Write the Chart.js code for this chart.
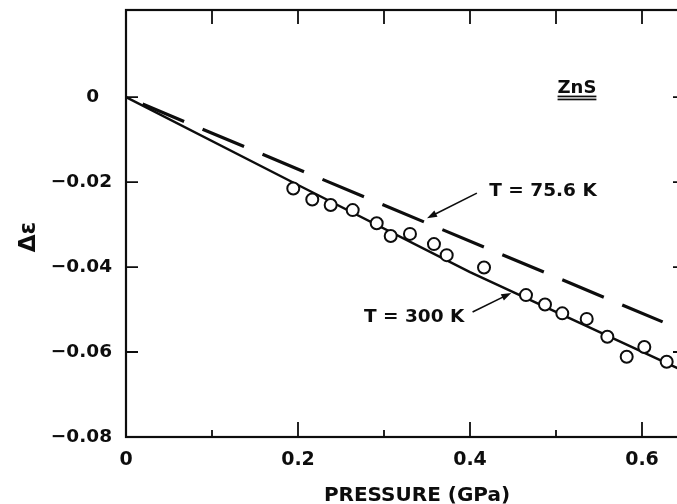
<!DOCTYPE html>
<html>
<head>
<meta charset="utf-8">
<script src="https://cdn.jsdelivr.net/npm/chart.js@4/dist/chart.umd.min.js"></script>
<style>
  html, body { margin: 0; padding: 0; background: #fff; overflow: hidden; }
  #wrap { width: 677px; height: 504px; overflow: hidden; }
</style>
</head>
<body>
<div id="wrap"><canvas id="c" width="695" height="504"></canvas></div>
<script>
// datos (ZnS, Δε vs presion)
const pressure = [0.1945, 0.2166, 0.238, 0.2636, 0.2915, 0.3078, 0.3302, 0.3581, 0.3729,
  0.4163, 0.4651, 0.4872, 0.5073, 0.5357, 0.5597, 0.5822, 0.6027, 0.6287]
const deltaEps = [-0.0215, -0.0241, -0.0254, -0.0266, -0.0297, -0.0327, -0.0322, -0.0346, -0.0372,
  -0.0401, -0.0466, -0.0488, -0.0509, -0.0522, -0.0564, -0.0611, -0.0588, -0.0623]

// ajuste T = 300 K (linea continua)
const fit300X = [0, 0.2, 0.4, 0.65]
const fit300Y = [0, -0.0207, -0.0412, -0.0646]
// T = 75.6 K (linea discontinua)
const fit756X = [0, 0.624]
const fit756Y = [0, -0.0529]

const xTicks = [0, 0.1, 0.2, 0.3, 0.4, 0.5, 0.6]
const xTickLabels = ['0', '', '0.2', '', '0.4', '', '0.6']
const yTicks = [0, -0.02, -0.04, -0.06, -0.08]
const yTickLabels = ['0  ', '\u22120.02', '\u22120.04', '\u22120.06', '\u22120.08']

const INK = '#0d0d0d'
const FONT = '"DejaVu Sans", "Liberation Sans", Arial, sans-serif'
const pts = (xs, ys) => xs.map((x, i) => ({ x, y: ys[i] }))

// marco + ticks hacia dentro + anotaciones
const framePlugin = {
  id: 'frame',
  afterDraw(chart) {
    const { ctx, chartArea: a, scales: { x, y } } = chart
    ctx.save()
    ctx.strokeStyle = INK
    ctx.lineWidth = 2.2
    ctx.strokeRect(a.left, a.top, a.right - a.left, a.bottom - a.top)

    ctx.lineWidth = 1.8
    ctx.beginPath()
    xTicks.forEach((v, i) => {
      const px = x.getPixelForValue(v)
      const len = xTickLabels[i] ? 15 : 7
      ctx.moveTo(px, a.bottom); ctx.lineTo(px, a.bottom - len)
      if (v > 0) { ctx.moveTo(px, a.top); ctx.lineTo(px, a.top + 14) }
    })
    yTicks.forEach(v => {
      const py = y.getPixelForValue(v)
      ctx.moveTo(a.left, py); ctx.lineTo(a.left + 12, py)
      ctx.moveTo(a.right, py); ctx.lineTo(a.right - 12, py)
    })
    ctx.stroke()

    ctx.fillStyle = INK
    ctx.textAlign = 'center'
    ctx.textBaseline = 'alphabetic'

    // ZnS con doble subrayado
    ctx.font = 'bold 18px ' + FONT
    const zx = x.getPixelForValue(0.5244), zy = y.getPixelForValue(0.00094)
    ctx.fillText('ZnS', zx, zy)
    const zw = ctx.measureText('ZnS').width
    ctx.fillRect(zx - zw / 2, zy + 2.5, zw, 1.7)
    ctx.fillRect(zx - zw / 2, zy + 5.5, zw, 1.7)

    ctx.font = 'bold 18.5px ' + FONT
    ctx.fillText('T = 75.6 K', x.getPixelForValue(0.4849), y.getPixelForValue(-0.0233))
    ctx.fillText('T = 300 K', x.getPixelForValue(0.335), y.getPixelForValue(-0.0529))

    const arrow = (p1, e1, p2, e2) => {
      const x1 = x.getPixelForValue(p1), y1 = y.getPixelForValue(e1)
      const x2 = x.getPixelForValue(p2), y2 = y.getPixelForValue(e2)
      const ang = Math.atan2(y2 - y1, x2 - x1)
      ctx.lineWidth = 1.6
      ctx.beginPath(); ctx.moveTo(x1, y1); ctx.lineTo(x2 - 6 * Math.cos(ang), y2 - 6 * Math.sin(ang)); ctx.stroke()
      ctx.beginPath()
      ctx.moveTo(x2, y2)
      ctx.lineTo(x2 - 10 * Math.cos(ang) + 3.5 * Math.sin(ang), y2 - 10 * Math.sin(ang) - 3.5 * Math.cos(ang))
      ctx.lineTo(x2 - 10 * Math.cos(ang) - 3.5 * Math.sin(ang), y2 - 10 * Math.sin(ang) + 3.5 * Math.cos(ang))
      ctx.closePath(); ctx.fill()
    }
    arrow(0.408, -0.0226, 0.350, -0.0285)
    arrow(0.403, -0.0506, 0.448, -0.0461)

    // titulos de ejes
    ctx.font = 'bold 20px ' + FONT
    ctx.fillText('PRESSURE (GPa)', 417, 501)
    ctx.save()
    ctx.translate(35, 237)
    ctx.rotate(-Math.PI / 2)
    ctx.font = 'bold 23px ' + FONT
    ctx.fillText('\u0394\u03b5', 0, 0)
    ctx.restore()

    ctx.restore()
  }
}

new Chart(document.getElementById('c'), {
  type: 'scatter',
  data: {
    datasets: [
      {
        label: 'datos 300 K',
        data: pts(pressure, deltaEps),
        showLine: false,
        pointStyle: 'circle',
        pointRadius: 6,
        pointBorderWidth: 2,
        pointBackgroundColor: '#fff',
        pointBorderColor: INK,
        order: 0
      },
      {
        label: 'T = 300 K',
        data: pts(fit300X, fit300Y),
        showLine: true,
        borderColor: INK,
        borderWidth: 2.4,
        pointRadius: 0,
        tension: 0,
        order: 1
      },
      {
        label: 'T = 75.6 K',
        data: pts(fit756X, fit756Y),
        showLine: true,
        borderColor: INK,
        borderWidth: 3.2,
        borderDash: [45, 20],
        borderDashOffset: 47,
        borderCapStyle: 'butt',
        pointRadius: 0,
        tension: 0,
        order: 2
      }
    ]
  },
  options: {
    responsive: false,
    animation: false,
    devicePixelRatio: 1,
    layout: { padding: { top: 10, right: 10, left: 0, bottom: 0 } },
    plugins: { legend: { display: false }, tooltip: { enabled: false } },
    scales: {
      x: {
        type: 'linear',
        min: 0, max: 0.65,
        afterFit: s => { s.height = 67; s.paddingLeft = 0; s.paddingRight = 0 },
        afterBuildTicks: s => { s.ticks = xTicks.map(v => ({ value: v })) },
        grid: { display: false, drawTicks: false },
        border: { display: false },
        ticks: {
          padding: 12,
          color: INK,
          maxRotation: 0,
          autoSkip: false,
          font: { family: FONT, size: 19, weight: 'bold' },
          callback: (v, i) => xTickLabels[i]
        }
      },
      y: {
        type: 'linear',
        min: -0.08, max: 0.0205,
        afterFit: s => { s.width = 126; s.paddingTop = 0; s.paddingBottom = 0 },
        afterBuildTicks: s => { s.ticks = yTicks.map(v => ({ value: v })) },
        grid: { display: false, drawTicks: false },
        border: { display: false },
        ticks: {
          padding: 14,
          color: INK,
          autoSkip: false,
          font: { family: FONT, size: 18.5, weight: 'bold' },
          callback: (v, i) => yTickLabels[i]
        }
      }
    }
  },
  plugins: [framePlugin]
})
</script>
</body>
</html>
